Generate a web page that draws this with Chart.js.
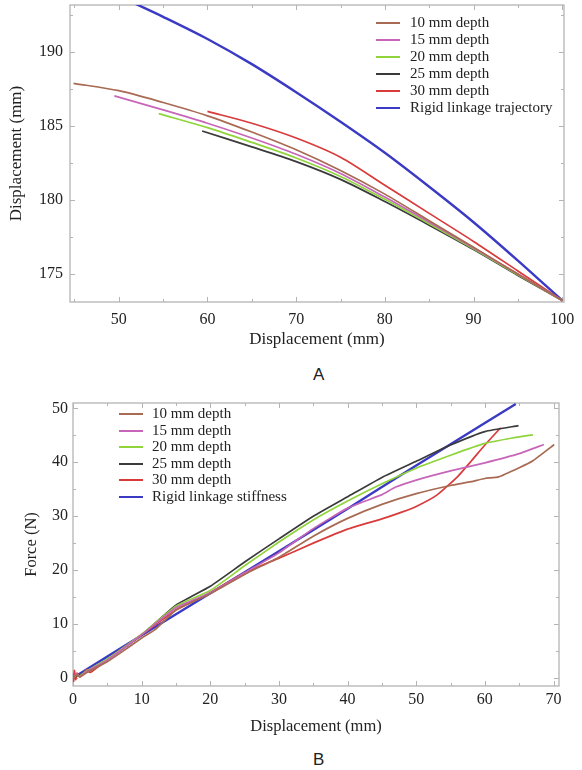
<!DOCTYPE html>
<html>
<head>
<meta charset="utf-8">
<script src="https://cdn.jsdelivr.net/npm/chart.js@4.4.1/dist/chart.umd.min.js"></script>
<style>
  body { margin: 0; background: #fff; width: 582px; height: 770px; overflow: hidden; position: relative; }
  .panel { position: absolute; left: 0; }
  .legend { position: absolute; font-family: "Liberation Serif", "Times New Roman", serif; font-size: 15px; color: #222; }
  .legend .row { position: absolute; left: 0; white-space: nowrap; height: 17px; line-height: 17px; }
  .legend .swatch { position: absolute; left: 0; top: 8px; width: 24px; height: 2px; }
  .legend .txt { position: absolute; top: 0; }
  .tag { position: absolute; font-family: "Liberation Sans", Arial, sans-serif; font-size: 17px; color: #222; }
</style>
</head>
<body>
<div class="panel" style="top:0"><canvas id="trajChart" width="582" height="360"></canvas></div>
<div class="panel" style="top:390px"><canvas id="forceChart" width="582" height="360"></canvas></div>
<div id="legendA" class="legend" style="left:376px; top:13.5px"></div>
<div id="legendB" class="legend" style="left:119px; top:405px"></div>
<div class="tag" style="left:313px; top:365px">A</div>
<div class="tag" style="left:313px; top:750px">B</div>
<script>
// series labels and colours
const depthLabels = ['10 mm depth', '15 mm depth', '20 mm depth', '25 mm depth', '30 mm depth'];
const depthColors = ['#a86a52', '#c766b8', '#8fd43a', '#3a3a3a', '#d93a3a'];
const rigidColor = '#3a3ac4';
const rigidLabelA = 'Rigid linkage trajectory';
const rigidLabelB = 'Rigid linkage stiffness';

// panel A: horizontal vs vertical displacement (mm)
const trajA10 = [[44.9,187.9],[50,187.4],[55,186.6],[60,185.7],[65,184.6],[70,183.4],[75,182.0],[80,180.4],[85,178.6],[90,176.8],[95,175.0],[100,173.2]];
const trajA15 = [[49.5,187.05],[55,186.1],[60,185.2],[65,184.2],[70,183.1],[75,181.8],[80,180.2],[85,178.5],[90,176.75],[95,175.0],[100,173.2]];
const trajA20 = [[54.5,185.85],[60,184.9],[65,183.9],[70,182.85],[75,181.6],[80,180.05],[85,178.4],[90,176.7],[95,174.95],[100,173.2]];
const trajA25 = [[59.4,184.67],[65,183.6],[70,182.6],[75,181.4],[80,179.9],[85,178.3],[90,176.65],[95,174.9],[100,173.2]];
const trajA30 = [[60,186.0],[65,185.2],[70,184.2],[75,182.9],[80,181.0],[85,179.1],[90,177.2],[95,175.2],[100,173.2]];
const trajRigid = [[51.8,193.3],[55,192.4],[60,190.9],[65,189.2],[70,187.3],[75,185.3],[80,183.2],[85,180.9],[90,178.5],[95,175.9],[100,173.2]];

const xTicksA = [50, 60, 70, 80, 90, 100];
const xMinorA = [45, 55, 65, 75, 85, 95];
const yTicksA = [175, 180, 185, 190];
const yMinorA = [177.5, 182.5, 187.5, 192.5];

// panel B: force (N) vs displacement (mm)
const forceB10 = [[0,0],[0.5,0.6],[1,0.2],[2,1.0],[5,3.0],[8,5.6],[10,7.4],[12,9.0],[15,12.6],[20,15.6],[25,19.2],[30,22.4],[35,26.3],[40,29.6],[45,32.2],[50,34.2],[55,35.7],[58,36.4],[60,37.0],[62,37.3],[65,39.0],[67,40.3],[70.1,43.3]];
const forceB15 = [[0,0],[0.5,0.8],[1,0.3],[2,1.2],[5,3.3],[10,8.0],[15,13.0],[20,15.8],[25,19.5],[30,23.2],[35,27.7],[40,31.5],[45,34.0],[47,35.4],[50,36.7],[55,38.4],[60,39.9],[65,41.6],[68.6,43.3]];
const forceB20 = [[0,0],[0.5,0.5],[1,0.4],[2,1.3],[5,3.5],[10,8.1],[15,13.3],[20,16.2],[25,20.8],[30,25.2],[35,29.3],[40,32.8],[45,36.0],[50,38.9],[55,41.3],[60,43.5],[64,44.5],[67,45.1]];
const forceB25 = [[0,0],[0.5,0.4],[1,0.6],[2,1.2],[5,3.4],[10,8.0],[15,13.5],[20,17.0],[25,21.5],[30,25.8],[35,30.0],[40,33.6],[45,37.2],[50,40.2],[55,43.2],[60,45.7],[64.9,46.8]];
const forceB30 = [[0,0.8],[0.1,-0.6],[0.2,1.4],[0.4,-0.3],[0.6,0.9],[1,0.2],[2,1.5],[2.5,1.0],[5,3.4],[10,8.0],[15,12.6],[20,15.8],[25,19.5],[30,22.2],[35,25.0],[40,27.6],[45,29.5],[48,30.8],[50,31.8],[53,33.9],[56,37.3],[58,40.2],[60,43.2],[62.3,46.4]];
const forceRigid = [[0,0],[10,7.9],[20,15.7],[30,23.5],[40,31.4],[50,39.4],[60,47.3],[64.5,50.8]];

const xTicksB = [0, 10, 20, 30, 40, 50, 60, 70];
const xMinorB = [5, 15, 25, 35, 45, 55, 65];
const yTicksB = [0, 10, 20, 30, 40, 50];
const yMinorB = [5, 15, 25, 35, 45];

const serif = '"Liberation Serif", "Times New Roman", serif';

// box frame with inward tick marks on all four sides
const framePlugin = {
    id: 'frame',
    beforeDatasetsDraw(chart, args, opts) {
        const { ctx, chartArea: a, scales: { x, y } } = chart;
        ctx.save();
        ctx.strokeStyle = '#b4b4b4';
        ctx.lineWidth = 1.3;
        ctx.strokeRect(a.left, a.top, a.right - a.left, a.bottom - a.top);
        ctx.lineWidth = 1;
        ctx.beginPath();
        const xMarks = (vals, len) => vals.forEach(v => {
            const px = Math.round(x.getPixelForValue(v)) + 0.5;
            ctx.moveTo(px, a.bottom); ctx.lineTo(px, a.bottom - len);
            ctx.moveTo(px, a.top); ctx.lineTo(px, a.top + len);
        });
        const yMarks = (vals, len) => vals.forEach(v => {
            const py = Math.round(y.getPixelForValue(v)) + 0.5;
            ctx.moveTo(a.left, py); ctx.lineTo(a.left + len, py);
            ctx.moveTo(a.right, py); ctx.lineTo(a.right - len, py);
        });
        xMarks(opts.xMajor, 5); xMarks(opts.xMinor, 3);
        yMarks(opts.yMajor, 5); yMarks(opts.yMinor, 3);
        ctx.stroke();
        ctx.restore();
    }
};

function series(points, label, color, width) {
    return {
        label: label,
        data: points.map(p => ({ x: p[0], y: p[1] })),
        borderColor: color,
        borderWidth: width,
        pointRadius: 0,
        showLine: true,
        fill: false
    };
}

// fixed scale sizes, no extra label padding so the plot box lands where we want
function fitX(h) {
    return s => { s.height = h; s.paddingLeft = 0; s.paddingRight = 0; };
}
function fitY(w) {
    return s => { s.width = w; s.paddingTop = 0; s.paddingBottom = 0; };
}

// titlePad is measured from the outer edge of the scale box
function axis(min, max, ticks, fit, title, titlePad, tickPad, titleSize) {
    return {
        type: 'linear',
        min: min,
        max: max,
        afterBuildTicks: s => { s.ticks = ticks.map(v => ({ value: v })); },
        afterFit: fit,
        grid: { display: false, drawTicks: false },
        border: { display: false },
        ticks: { color: '#222', padding: tickPad, font: { family: serif, size: 16 } },
        title: { display: true, text: title, color: '#222', padding: { top: titlePad, bottom: titlePad }, font: { family: serif, size: titleSize } }
    };
}

function buildLegend(id, labels, colors, step) {
    const box = document.getElementById(id);
    labels.forEach((text, i) => {
        const row = document.createElement('div');
        row.className = 'row';
        row.style.top = (i * step) + 'px';
        row.innerHTML = '<span class="swatch" style="background:' + colors[i] + '"></span>' +
            '<span class="txt" style="left:' + (id === 'legendA' ? 34 : 33) + 'px">' + text + '</span>';
        box.appendChild(row);
    });
}

const depthA = [trajA10, trajA15, trajA20, trajA25, trajA30];
new Chart(document.getElementById('trajChart'), {
    type: 'scatter',
    data: {
        datasets: depthA.map((d, i) => series(d, depthLabels[i], depthColors[i], 1.7))
            .concat([series(trajRigid, rigidLabelA, rigidColor, 2.4)])
    },
    options: {
        responsive: false,
        animation: false,
        elements: { line: { tension: 0.3 } },
        layout: { padding: { top: 5, right: 18, left: 0, bottom: 0 } },
        plugins: {
            legend: { display: false },
            tooltip: { enabled: false },
            frame: { xMajor: xTicksA, xMinor: xMinorA, yMajor: yTicksA, yMinor: yMinorA }
        },
        scales: {
            x: axis(44.5, 100.2, xTicksA, fitX(58), 'Displacement (mm)', 10, 8, 17),
            y: axis(173.1, 193.2, yTicksA, fitY(70), 'Displacement (mm)', 6, 7, 17)
        }
    },
    plugins: [framePlugin]
});

const depthB = [forceB10, forceB15, forceB20, forceB25, forceB30];
new Chart(document.getElementById('forceChart'), {
    type: 'scatter',
    data: {
        datasets: depthB.map((d, i) => series(d, depthLabels[i], depthColors[i], 1.7))
            .concat([series(forceRigid, rigidLabelB, rigidColor, 2.4)])
    },
    options: {
        responsive: false,
        animation: false,
        elements: { line: { tension: 0.15 } },
        layout: { padding: { top: 13, right: 23, left: 0, bottom: 0 } },
        plugins: {
            legend: { display: false },
            tooltip: { enabled: false },
            frame: { xMajor: xTicksB, xMinor: xMinorB, yMajor: yTicksB, yMinor: yMinorB }
        },
        scales: {
            x: axis(0, 70.8, xTicksB, fitX(64), 'Displacement (mm)', 13, 4, 16.5),
            y: axis(-1.5, 51, yTicksB, fitY(73), 'Force (N)', 22, 5, 16.5)
        }
    },
    plugins: [framePlugin]
});

buildLegend('legendA', depthLabels.concat([rigidLabelA]), depthColors.concat([rigidColor]), 17);
buildLegend('legendB', depthLabels.concat([rigidLabelB]), depthColors.concat([rigidColor]), 16.6);
</script>
</body>
</html>
